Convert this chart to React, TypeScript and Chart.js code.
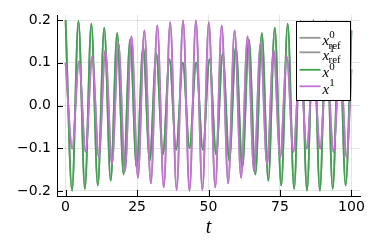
import React, { useEffect, useRef } from "react";
import { Chart, registerables } from "chart.js";

Chart.register(...registerables);

// x-axis ticks
const X_TICKS = [0, 25, 50, 75, 100];
const X_TICK_LABELS = ["0", "25", "50", "75", "100"];
// y-axis ticks
const Y_TICKS = [-0.2, -0.1, 0, 0.1, 0.2];
const Y_TICK_LABELS = ["\u22120.2", "\u22120.1", "0.0", "0.1", "0.2"];

// x^0 : times of turning points and values
const T0 = [0, 2.252, 4.504, 6.756, 9.01, 11.265, 13.522, 15.78, 18.042, 20.308, 22.577, 24.852, 27.134, 29.423, 31.72, 34.028, 36.346, 38.674, 41.011, 43.351, 45.692, 48.028, 50.356, 52.674, 54.982, 57.28, 59.569, 61.85, 64.125, 66.395, 68.66, 70.922, 73.181, 75.438, 77.693, 79.946, 82.199, 84.451, 86.702, 88.954, 91.206, 93.459, 95.712, 97.967, 100];
const X0 = [0.2, -0.1995, 0.198, -0.1954, 0.1919, -0.1875, 0.1822, -0.1761, 0.1693, -0.162, 0.1541, -0.146, 0.1377, -0.1295, 0.1218, -0.1147, 0.1086, -0.104, 0.101, -0.1, 0.101, -0.104, 0.1086, -0.1147, 0.1218, -0.1295, 0.1377, -0.146, 0.1541, -0.162, 0.1693, -0.1761, 0.1822, -0.1875, 0.1919, -0.1954, 0.198, -0.1995, 0.2, -0.1995, 0.198, -0.1954, 0.1919, -0.1875, 0.176];

// x^1 : times of turning points and values
const T1 = [0, 2.341, 4.677, 7.005, 9.324, 11.631, 13.929, 16.218, 18.499, 20.774, 23.044, 25.309, 27.571, 29.829, 32.086, 34.341, 36.595, 38.847, 41.099, 43.351, 45.603, 47.855, 50.108, 52.361, 54.616, 56.873, 59.132, 61.394, 63.659, 65.929, 68.204, 70.485, 72.774, 75.071, 77.379, 79.697, 82.025, 84.361, 86.702, 89.043, 91.38, 93.708, 96.026, 98.333, 100];
const X1 = [0.1, -0.101, 0.104, -0.1087, 0.1147, -0.1218, 0.1296, -0.1378, 0.146, -0.1542, 0.162, -0.1694, 0.1762, -0.1823, 0.1875, -0.192, 0.1955, -0.198, 0.1995, -0.2, 0.1995, -0.198, 0.1955, -0.192, 0.1875, -0.1823, 0.1762, -0.1694, 0.162, -0.1542, 0.146, -0.1378, 0.1296, -0.1218, 0.1147, -0.1087, 0.104, -0.101, 0.1, -0.101, 0.104, -0.1087, 0.1147, -0.1218, 0.085];

// legend entries
const LEGEND_SUP = ["0", "1", "0", "1"];
const LEGEND_SUB = ["ref", "ref", "", ""];

const GRAY = "rgb(150,150,150)";
const GREEN = "#3EA44E";
const PURPLE = "#C371D2";
const LEGEND_COLORS = [GRAY, GRAY, GREEN, PURPLE];

const toPts = (ts: number[], ys: number[]) => ts.map((t, i) => ({ x: t, y: ys[i] }));

const decorPlugin = {
  id: "decor",
  afterDraw(chart: any) {
    const { ctx, chartArea: a, scales } = chart;
    ctx.save();
    // inward ticks
    ctx.strokeStyle = "#000";
    ctx.lineWidth = 1;
    ctx.beginPath();
    for (const v of X_TICKS) {
      const px = Math.round(scales.x.getPixelForValue(v)) + 0.5;
      ctx.moveTo(px, a.bottom);
      ctx.lineTo(px, a.bottom - 6);
    }
    for (const v of Y_TICKS) {
      const py = Math.round(scales.y.getPixelForValue(v)) + 0.5;
      ctx.moveTo(a.left, py);
      ctx.lineTo(a.left + 6, py);
    }
    ctx.stroke();

    // legend box
    const bx = Math.round(a.right - 64) + 0.5;
    const by = Math.round(a.top + 6) + 0.5;
    const bw = 54;
    const bh = 79;
    ctx.fillStyle = "#fff";
    ctx.fillRect(bx, by, bw, bh);
    ctx.strokeStyle = "#000";
    ctx.lineWidth = 1;
    ctx.strokeRect(bx, by, bw, bh);
    const rows = [16.3, 30.8, 48.3, 64.8];
    rows.forEach((off, i) => {
      const ly = by + off;
      ctx.strokeStyle = LEGEND_COLORS[i];
      ctx.lineWidth = 1.8;
      ctx.beginPath();
      ctx.moveTo(bx + 3, ly);
      ctx.lineTo(bx + 24, ly);
      ctx.stroke();
      const tx = bx + 26;
      const base = ly + 7.5;
      ctx.fillStyle = "#000";
      ctx.textAlign = "left";
      ctx.textBaseline = "alphabetic";
      ctx.font = "italic 15px 'Liberation Serif'";
      ctx.fillText("x", tx, base);
      ctx.font = "11px 'Liberation Serif'";
      ctx.fillText(LEGEND_SUP[i], tx + 6.7, base - 7.4);
      if (LEGEND_SUB[i]) ctx.fillText(LEGEND_SUB[i], tx + 6, base + 3.3);
    });
    ctx.restore();
  },
};

export default function App() {
  const ref = useRef<HTMLCanvasElement>(null);
  useEffect(() => {
    document.body.style.margin = "0";
    const common = {
      pointRadius: 0,
      borderWidth: 1.8,
      cubicInterpolationMode: "monotone" as const,
      fill: false,
    };
    const chart = new Chart(ref.current!, {
      type: "line",
      data: {
        datasets: [
          { ...common, label: "x0ref", data: toPts(T0, X0), borderColor: GRAY, order: 3 },
          { ...common, label: "x1ref", data: toPts(T1, X1), borderColor: GRAY, order: 2 },
          { ...common, label: "x0", data: toPts(T0, X0), borderColor: GREEN, order: 1 },
          { ...common, label: "x1", data: toPts(T1, X1), borderColor: PURPLE, order: 0 },
        ],
      },
      options: {
        animation: false,
        responsive: false,
        events: [],
        layout: { padding: { left: 0, top: 15, right: 14, bottom: 0 } },
        plugins: { legend: { display: false }, tooltip: { enabled: false } },
        scales: {
          x: {
            type: "linear",
            min: -3,
            max: 103,
            afterBuildTicks: (s: any) => {
              s.ticks = X_TICKS.map((v) => ({ value: v }));
            },
            afterFit: (s: any) => {
              s.height = 53;
            },
            ticks: {
              autoSkip: false,
              maxRotation: 0,
              padding: 3,
              color: "#000",
              font: { family: "DejaVu Sans", size: 14 },
              callback: (_v: any, i: number) => X_TICK_LABELS[i],
            },
            grid: { color: "rgba(0,0,0,0.1)", lineWidth: 1, drawTicks: false },
            border: { display: true, color: "#000", width: 1 },
            title: {
              display: true,
              text: "t",
              color: "#000",
              font: { family: "Liberation Serif", style: "italic", size: 20 },
              padding: { top: 0, bottom: 9.75 },
            },
          },
          y: {
            type: "linear",
            min: -0.212,
            max: 0.212,
            afterBuildTicks: (s: any) => {
              s.ticks = Y_TICKS.map((v) => ({ value: v }));
            },
            afterFit: (s: any) => {
              s.width = 57;
            },
            ticks: {
              autoSkip: false,
              padding: 6,
              color: "#000",
              font: { family: "DejaVu Sans", size: 14 },
              callback: (_v: any, i: number) => Y_TICK_LABELS[i],
            },
            grid: { color: "rgba(0,0,0,0.1)", lineWidth: 1, drawTicks: false },
            border: { display: true, color: "#000", width: 1 },
          },
        },
      },
      plugins: [decorPlugin],
    } as any);
    return () => chart.destroy();
  }, []);
  return (
    <div style={{ position: "fixed", left: 0, top: 0, width: 374, height: 249 }}>
      <canvas ref={ref} width={374} height={249} />
    </div>
  );
}
